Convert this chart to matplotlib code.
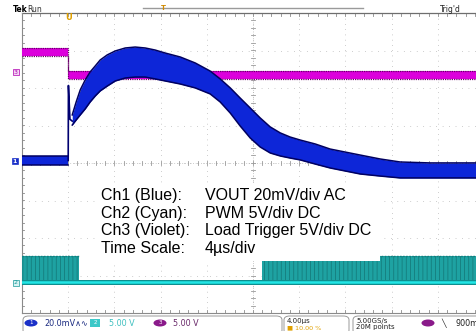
import numpy as np
import matplotlib
matplotlib.use("Agg")
import matplotlib.pyplot as plt
from matplotlib.patches import Rectangle, FancyBboxPatch, Ellipse

# ---------------- data ----------------
# Ch1 VOUT (mV, AC coupled), envelope of the noisy trace
ch1_pre_t = [-4.0, 0.0]
ch1_pre_hi = [2.4, 2.4]
ch1_pre_lo = [-2.4, -2.4]
ch1_t = [0.35, 0.69, 1.04, 1.47, 1.90, 2.34, 2.77, 3.38, 4.07, 4.94, 5.80,
         6.67, 7.53, 8.40, 9.70, 11.00, 12.29, 13.16, 14.03, 14.89, 15.76,
         16.62, 17.49, 18.36, 19.22, 20.09, 21.39, 22.68, 23.98, 25.28,
         27.01, 28.74, 31.34, 36.0]
ch1_hi = [24.3, 31.2, 37.6, 42.9, 47.2, 50.4, 53.6, 56.3, 58.4, 60.0, 60.5,
          60.0, 58.9, 57.3, 55.2, 52.0, 47.7, 43.5, 38.7, 33.3, 28.0,
          22.7, 17.9, 14.7, 12.5, 10.9, 8.8, 6.1, 4.5, 2.9,
          0.8, -0.8, -1.3, -1.3]
ch1_lo = [18.9, 21.6, 24.3, 27.5, 31.2, 34.4, 37.1, 39.7, 42.4, 44.0, 44.5,
          44.5, 43.5, 42.4, 40.8, 38.7, 35.5, 31.2, 25.3, 18.4, 12.0,
          7.2, 4.0, 2.4, 1.3, 0.3, -1.9, -4.0, -5.6, -7.2,
          -8.3, -9.3, -9.3, -9.3]
spike_t = [0.0, 0.02, 0.15, 0.35]
spike_mv = [0.0, 40.0, 22.0, 21.0]

# Ch3 Load trigger (V)
ch3_t = [-4.0, 0.0, 0.0, 36.0]
ch3_v = [2.53, 2.53, -0.5, -0.5]

# Ch2 PWM (V): switching windows
ch2_on_start = [-4.0, 16.8]
ch2_on_end = [0.95, 36.0]
ch2_high = 3.4
ch2_low = 0.0

labels = ["Ch1 (Blue):", "Ch2 (Cyan):", "Ch3 (Violet):", "Time Scale:"]
values = ["VOUT 20mV/div AC", "PWM 5V/div DC", "Load Trigger 5V/div DC", "4\u00b5s/div"]

# channel scales / offsets (divisions)
ch1_scale, ch1_off = 20.0, 0.067
ch2_scale, ch2_off = 5.0, -3.17
ch3_scale, ch3_off = 5.0, 2.45

W, H = 477, 331
fig = plt.figure(figsize=(W / 100, H / 100), dpi=100)
fig.patch.set_facecolor("white")

def fx(px):
    return px / W

def fy(py):
    return 1 - py / H

ax = fig.add_axes([fx(22), fy(313), 462 / W, 300 / H])
ax.set_xlim(-4, 36)
ax.set_ylim(-4, 4)
ax.axis("off")

# ---------------- graticule ----------------
gcol = "#b8b8b8"
for k in range(11):
    x = -4 + 4 * k
    ax.plot([x, x], [-4, 4], color=gcol, lw=0.7, dashes=(0.7, 4.7), zorder=1)
for k in range(9):
    y = -4 + k
    ax.plot([-4, 36], [y, y], color=gcol, lw=0.7, dashes=(0.7, 5.95), zorder=1)
tx = np.arange(-4, 36.01, 0.8)
for x in tx:
    ax.plot([x, x], [-0.06, 0.06], color="#9a9a9a", lw=0.6, zorder=1)
    ax.plot([x, x], [3.93, 4.0], color="#8a8a8a", lw=0.6, zorder=1)
    ax.plot([x, x], [-4.0, -3.93], color="#8a8a8a", lw=0.6, zorder=1)
ty = np.arange(-4, 4.01, 0.2)
for y in ty:
    ax.plot([15.83, 16.17], [y, y], color="#9a9a9a", lw=0.6, zorder=1)
    ax.plot([-4, -3.83], [y, y], color="#8a8a8a", lw=0.6, zorder=1)
ax.plot([16, 16], [-4, 4], color="#a0a0a0", lw=0.6, dashes=(0.7, 2.0), zorder=1)
ax.plot([-4, 36], [0, 0], color="#a0a0a0", lw=0.6, dashes=(0.7, 2.5), zorder=1)
ax.plot([-4, 36], [4, 4], color="#6e6e6e", lw=0.9, zorder=2, clip_on=False)
ax.plot([-4, 36], [-4, -4], color="#8a8a8a", lw=0.8, zorder=2, clip_on=False)
ax.plot([-4, -4], [-4, 4], color="#8a8a8a", lw=0.8, zorder=2, clip_on=False)

# ---------------- Ch2 PWM (cyan) ----------------
plt.rcParams["hatch.linewidth"] = 0.5
for s, e in zip(ch2_on_start, ch2_on_end):
    xs = [s, e]
    ax.fill_between(xs, [ch2_low / ch2_scale + ch2_off] * 2,
                    [ch2_high / ch2_scale + ch2_off] * 2,
                    facecolor="#1ea2a2", edgecolor="#137575", hatch="||||",
                    lw=0, zorder=3)
    ax.plot(xs, [ch2_high / ch2_scale + ch2_off] * 2, color="#0f7f7f",
            lw=1.0, dashes=(1.2, 1.0), zorder=3)
ax.plot([-4, 36], [ch2_low / ch2_scale + ch2_off] * 2, color="#0e8f8f",
        lw=3.6, zorder=4)
ax.plot([-4, 36], [ch2_low / ch2_scale + ch2_off] * 2, color="#22e6e6",
        lw=1.8, zorder=4)

# ---------------- Ch3 load trigger (violet) ----------------
c3 = np.array(ch3_v) / ch3_scale + ch3_off
hw3 = 0.105
ax.fill_between(ch3_t, c3 - hw3, c3 + hw3, color="#dc00dc", lw=0, zorder=5)
ax.plot(ch3_t, c3 + hw3, color="#6a006a", lw=0.9, dashes=(1.0, 0.8), zorder=5)
ax.plot(ch3_t, c3 - hw3, color="#6a006a", lw=0.9, dashes=(1.0, 0.8), zorder=5)

# ---------------- Ch1 VOUT (blue) ----------------
for tt, hi, lo in ((ch1_pre_t, ch1_pre_hi, ch1_pre_lo), (ch1_t, ch1_hi, ch1_lo)):
    h = np.array(hi) / ch1_scale + ch1_off
    l = np.array(lo) / ch1_scale + ch1_off
    ax.fill_between(tt, l, h, color="#0d26d8", lw=0, zorder=6)
    ax.plot(tt, h, color="#000060", lw=1.1, zorder=6)
    ax.plot(tt, l, color="#000060", lw=1.1, zorder=6)
ax.plot(spike_t, np.array(spike_mv) / ch1_scale + ch1_off, color="#000070",
        lw=1.2, zorder=6)

# ---------------- annotation box ----------------
fig.patches.append(Rectangle((fx(100), fy(261)), 280 / W, 78 / H,
                             transform=fig.transFigure, facecolor="white",
                             edgecolor="none", zorder=10))
base = [200, 218, 235.5, 253]
for lab, val, b in zip(labels, values, base):
    fig.text(fx(101), fy(b), lab, fontsize=11.5, family="Liberation Sans",
             va="baseline", ha="left", zorder=11)
    fig.text(fx(205), fy(b), val, fontsize=11.5, family="Liberation Sans",
             va="baseline", ha="left", zorder=11)

# ---------------- top header ----------------
fig.text(fx(13), fy(11.5), "Tek", fontsize=5.5, weight="bold", va="baseline")
fig.text(fx(27), fy(11.5), "Run", fontsize=5.5, color="#333333", va="baseline")
fig.text(fx(440), fy(11.5), "Trig'd", fontsize=5.5, color="#222222", va="baseline")
fig.lines.append(plt.Line2D([fx(143), fx(363)], [fy(8), fy(8)],
                            transform=fig.transFigure, color="#9a9a9a", lw=1.0))
fig.text(fx(163), fy(8), "T", fontsize=5, color="#d08a00", ha="center",
         va="center", weight="bold")
fig.text(fx(69), fy(18), "U", fontsize=6, color="#e0a000", ha="center",
         va="center", weight="bold")

# channel markers on the left
fig.text(fx(16), fy(72), "3", fontsize=4.5, color="#b000b0", ha="center",
         va="center", bbox=dict(boxstyle="square,pad=0.1", fc="#f3d8f3",
                                ec="#b000b0", lw=0.5))
fig.text(fx(15), fy(161), "1", fontsize=4.5, color="white", ha="center",
         va="center", weight="bold",
         bbox=dict(boxstyle="square,pad=0.1", fc="#1a30c8", ec="#1a30c8", lw=0.5))
fig.text(fx(16), fy(283), "2", fontsize=4.5, color="#1a9a9a", ha="center",
         va="center", bbox=dict(boxstyle="square,pad=0.1", fc="#d8f3f3",
                                ec="#1a9a9a", lw=0.5))

# ---------------- status bar ----------------
for x0, x1 in ((23, 282), (284, 349), (353, 500)):
    fig.patches.append(FancyBboxPatch((fx(x0), fy(334)), (x1 - x0) / W, 18 / H,
                                      boxstyle="round,pad=0,rounding_size=0.012",
                                      transform=fig.transFigure, fc="none",
                                      ec="#9a9a9a", lw=0.7))
fig.patches.append(Ellipse((fx(31), fy(323)), 13 / W, 7 / H,
                           transform=fig.transFigure, fc="#1a30c8", ec="none"))
fig.text(fx(31), fy(323), "1", fontsize=4, color="white", ha="center", va="center")
fig.text(fx(44), fy(323), "20.0mV\u2227\u223f", fontsize=5.8, color="#1a2a80",
         va="center")
fig.patches.append(Rectangle((fx(90), fy(327)), 10 / W, 8 / H,
                             transform=fig.transFigure, fc="#3cc8c8", ec="none"))
fig.text(fx(95), fy(323), "2", fontsize=4, color="white", ha="center", va="center")
fig.text(fx(109), fy(323), "5.00 V", fontsize=5.8, color="#40c0c0", va="center")
fig.patches.append(Ellipse((fx(160), fy(323)), 13 / W, 7 / H,
                           transform=fig.transFigure, fc="#8a1a8a", ec="none"))
fig.text(fx(160), fy(323), "3", fontsize=4, color="white", ha="center", va="center")
fig.text(fx(173), fy(323), "5.00 V", fontsize=5.8, color="#6a2a6a", va="center")
fig.text(fx(287), fy(320.5), "4.00\u00b5s", fontsize=5, color="#222222", va="center")
fig.text(fx(287), fy(327.5), "\u25a0 10.00 %", fontsize=4.6, color="#e0a000", va="center")
fig.text(fx(356), fy(320.5), "5.00GS/s", fontsize=5, color="#222222", va="center")
fig.text(fx(356), fy(327.5), "20M points", fontsize=5, color="#222222", va="center")
fig.patches.append(Ellipse((fx(428), fy(323)), 13 / W, 7 / H,
                           transform=fig.transFigure, fc="#8a1a8a", ec="none"))
fig.text(fx(441), fy(323), "\u2572", fontsize=5.5, color="#222222", va="center")
fig.text(fx(456), fy(323), "900mV", fontsize=5.8, color="#222222", va="center")

fig.savefig("out.png", dpi=100, facecolor="white")
